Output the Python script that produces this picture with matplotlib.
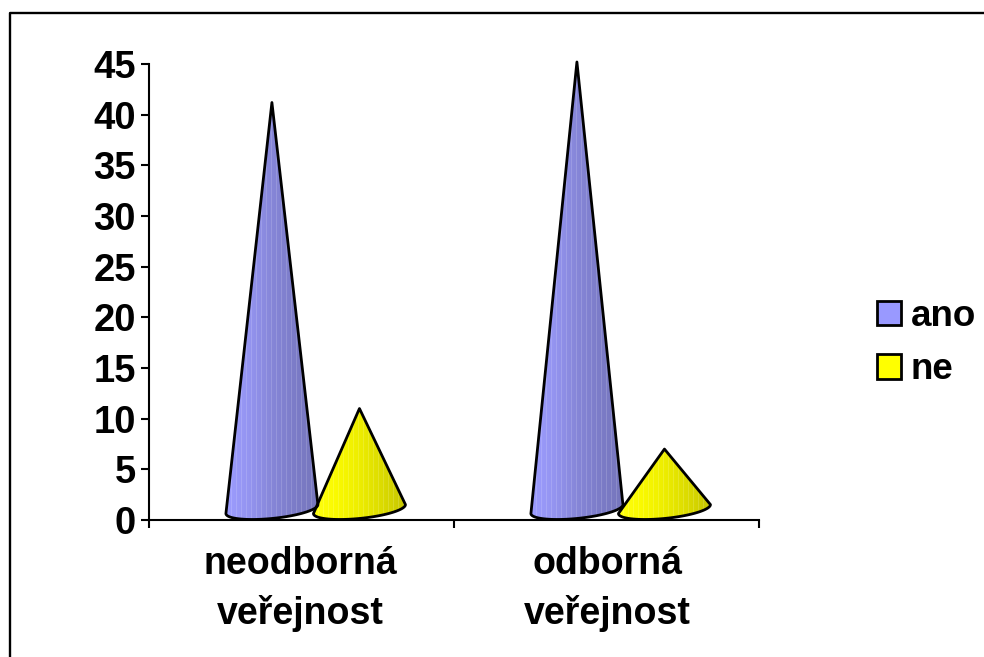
import numpy as np
import matplotlib
matplotlib.use("Agg")
import matplotlib.pyplot as plt
from matplotlib.colors import LinearSegmentedColormap
from matplotlib.lines import Line2D
from matplotlib.patches import Patch, Polygon

plt.rcParams['font.family'] = ['Liberation Sans', 'DejaVu Sans']

categories = ["neodborná\nveřejnost", "odborná\nveřejnost"]
series_names = ["ano", "ne"]
ano = [41.2, 45.2]
ne = [11, 7]
y_ticks = [0, 5, 10, 15, 20, 25, 30, 35, 40, 45]

ano_color = "#9999ff"
ne_color = "#ffff00"
ano_shades = ["#9c9cff", "#9494f0", "#8686d8", "#7c7cc8", "#7676bc"]
ne_shades = ["#ffff10", "#fafa00", "#eeee00", "#dcdc00", "#c8c800"]

W, H = 984, 657
fig = plt.figure(figsize=(W / 100, H / 100), dpi=100)
ax = fig.add_axes([149 / W, 1 - 520 / H, 610 / W, 456 / H])


def draw_cone(ax, x, half, value, shades):
    # base is a tilted ellipse, left end sits lower than the right one
    t = np.linspace(np.pi, 2 * np.pi, 60)
    ex = x + half * np.cos(t)
    ey = 1.08 + 0.44 * np.cos(t) + 0.93 * np.sin(t)
    verts = np.vstack([[x, value], np.column_stack([ex, ey])])
    poly = Polygon(verts, closed=True, facecolor="none", edgecolor="black",
                   linewidth=2, joinstyle="round", zorder=3, clip_on=False)
    ax.add_patch(poly)

    # shading across the cone with the pale streaks of the old renderer
    cmap = LinearSegmentedColormap.from_list("shade", shades)
    grad = cmap(np.linspace(0, 1, 92))[:, :3]
    grad[::5] = grad[::5] * 0.85 + 0.15
    img = ax.imshow(grad[np.newaxis, :, :], extent=(x - half, x + half, 0, value),
                    aspect="auto", interpolation="bilinear", zorder=2)
    img.set_clip_path(poly)


cone_half = 46 / 305
ano_shift = -0.097
ne_shift = 0.19
for i in range(len(categories)):
    center = i + 0.5
    draw_cone(ax, center + ano_shift, cone_half, ano[i], ano_shades)
    draw_cone(ax, center + ne_shift, cone_half, ne[i], ne_shades)

ax.set_xlim(0, 2)
ax.set_ylim(0, 45)

for side in ["top", "right"]:
    ax.spines[side].set_visible(False)
for side in ["left", "bottom"]:
    ax.spines[side].set_linewidth(1.5)

ax.set_yticks(y_ticks)
ax.set_yticklabels([str(v) for v in y_ticks], fontsize=27.5, fontweight="bold")
ax.tick_params(axis="y", length=6, width=1.5, pad=3.5)

ax.set_xticks([0, 1, 2])
ax.set_xticklabels([])
ax.tick_params(axis="x", which="major", length=6, width=1.5)
ax.set_xticks([0.497, 1.503], minor=True)
ax.set_xticklabels(categories, minor=True, fontsize=27, fontweight="bold",
                   linespacing=1.46)
ax.tick_params(axis="x", which="minor", length=0, pad=18.5)

handles = [Patch(facecolor=ano_color, edgecolor="black", linewidth=2),
           Patch(facecolor=ne_color, edgecolor="black", linewidth=2)]
fig.legend(handles, series_names, loc="upper left",
           bbox_to_anchor=(877 / W, 1 - 299 / H), bbox_transform=fig.transFigure,
           frameon=False, borderaxespad=0, borderpad=0,
           prop={"size": 26.5, "weight": "bold"},
           handlelength=0.66, handleheight=0.66, handletextpad=0.25, labelspacing=0.5)

# outer chart frame, runs off the right and bottom of the image
fig.add_artist(Line2D([10 / W, 10 / W, 1], [0, 1 - 12.5 / H, 1 - 12.5 / H],
                      color="black", linewidth=1.7, transform=fig.transFigure))

fig.savefig("out.png", dpi=100)
